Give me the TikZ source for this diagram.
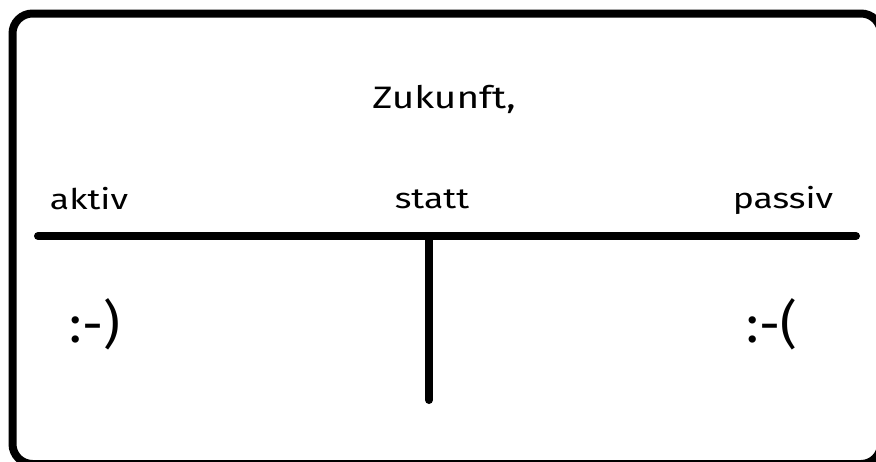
\documentclass[tikz,border=0pt]{standalone}
\usepackage{fontspec}
\setmainfont[FakeStretch=1.25]{Fira Sans}
\newfontfamily\smileyfont{Fira Sans}
\begin{document}
\begin{tikzpicture}[x=1pt,y=-1pt,
  frame/.style={line width=8pt, rounded corners=20pt},
  bar/.style={line width=8pt, line cap=round},
  lbl/.style={anchor=base, inner sep=0pt, font=\fontsize{28.5}{32}\selectfont},
  ttl/.style={anchor=base, inner sep=0pt, font=\fontsize{31}{36}\selectfont},
  smile/.style={anchor=base, inner sep=0pt, font=\smileyfont\fontsize{52}{60}\selectfont}]
\useasboundingbox (0,0) rectangle (876,461);
\begin{scope}
\clip (0,0) rectangle (876,461);
\draw[frame] (12.5,13.5) rectangle (881,464);
\end{scope}
\coordinate (hl) at (38,236);
\coordinate (hr) at (856,236);
\coordinate (vt) at (429,236);
\coordinate (vb) at (429,400);
\draw[bar] (hl) -- (hr);
\draw[bar] (vt) -- (vb);
\node[ttl] (title) at (444,108) {Zukunft,};
\node[lbl] (aktiv) at (89,209) {aktiv};
\node[lbl] (statt) at (432,208) {statt};
\node[lbl] (passiv) at (783,208) {passiv};
\node[smile] (happy) at (95,342) {:-)};
\node[smile] (sad) at (772,342) {:-(};
\end{tikzpicture}
\end{document}
